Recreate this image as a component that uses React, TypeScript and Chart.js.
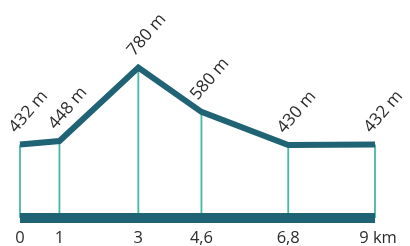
import React, { useEffect, useRef } from "react";
import { Chart, registerables } from "chart.js";

Chart.register(...registerables);

const distancesKm = [0, 1, 3, 4.6, 6.8, 9];
const elevationsM = [432, 448, 780, 580, 430, 432];
const tickLabels = ["0", "1", "3", "4,6", "6,8", "9 km"];
const elevationLabels = ["432 m", "448 m", "780 m", "580 m", "430 m", "432 m"];
const baseElevation = 100;
const topElevation = 1000;

const DARK = "#1f6374";
const TEAL = "#45b9a6";
const TEXT = "#2b2b2b";
const FONT = "'Open Sans', 'Noto Sans', sans-serif";

const labelsPlugin = {
  id: "profileLabels",
  afterDatasetsDraw(chart: any) {
    const ctx = chart.ctx;
    const xs = chart.scales.x;
    const ys = chart.scales.y;
    ctx.save();
    ctx.fillStyle = TEXT;
    ctx.font = `17px ${FONT}`;
    ctx.textAlign = "left";
    ctx.textBaseline = "alphabetic";
    distancesKm.forEach((d, i) => {
      const px = xs.getPixelForValue(d);
      const py = ys.getPixelForValue(elevationsM[i]);
      ctx.save();
      ctx.translate(px - 4, py - 11);
      ctx.rotate(-0.86);
      ctx.fillText(elevationLabels[i], 0, 0);
      ctx.restore();
    });
    ctx.font = `16.5px ${FONT}`;
    ctx.textAlign = "center";
    distancesKm.forEach((d, i) => {
      const px = xs.getPixelForValue(d);
      const label = tickLabels[i];
      const shift = label.length > 3 ? 3 : 0;
      ctx.fillText(label, px + shift, 243);
    });
    ctx.restore();
  },
};

export default function App() {
  const canvasRef = useRef<HTMLCanvasElement | null>(null);

  useEffect(() => {
    if (!canvasRef.current) return;
    const profile = distancesKm.map((d, i) => ({ x: d, y: elevationsM[i] }));
    const verticals: any[] = [];
    distancesKm.forEach((d, i) => {
      verticals.push({ x: d, y: baseElevation });
      verticals.push({ x: d, y: elevationsM[i] });
      verticals.push({ x: d, y: null });
    });
    const base = [
      { x: distancesKm[0], y: baseElevation },
      { x: distancesKm[distancesKm.length - 1], y: baseElevation },
    ];
    const chart = new Chart(canvasRef.current, {
      type: "line",
      data: {
        datasets: [
          {
            data: profile,
            borderColor: DARK,
            borderWidth: 6,
            borderJoinStyle: "miter",
            borderCapStyle: "butt",
            pointRadius: 0,
            tension: 0,
            clip: false,
            order: 0,
          } as any,
          {
            data: base,
            borderColor: DARK,
            borderWidth: 10,
            borderCapStyle: "butt",
            pointRadius: 0,
            clip: false,
            order: 1,
          },
          {
            data: verticals,
            borderColor: TEAL,
            borderWidth: 1.8,
            borderCapStyle: "butt",
            pointRadius: 0,
            spanGaps: false,
            clip: false,
            order: 2,
          },
        ],
      },
      options: {
        animation: false,
        responsive: false,
        maintainAspectRatio: false,
        layout: { padding: { left: 20, right: 35, top: 19, bottom: 28 } },
        plugins: { legend: { display: false }, tooltip: { enabled: false } },
        scales: {
          x: { type: "linear", min: 0, max: 9, display: false },
          y: { type: "linear", min: baseElevation, max: topElevation, display: false },
        },
      },
      plugins: [labelsPlugin],
    });
    return () => chart.destroy();
  }, []);

  return (
    <div style={{ position: "fixed", left: 0, top: 0, width: 410, height: 246, background: "#fff" }}>
      <canvas ref={canvasRef} width={410} height={246} style={{ width: 410, height: 246, display: "block" }} />
    </div>
  );
}
